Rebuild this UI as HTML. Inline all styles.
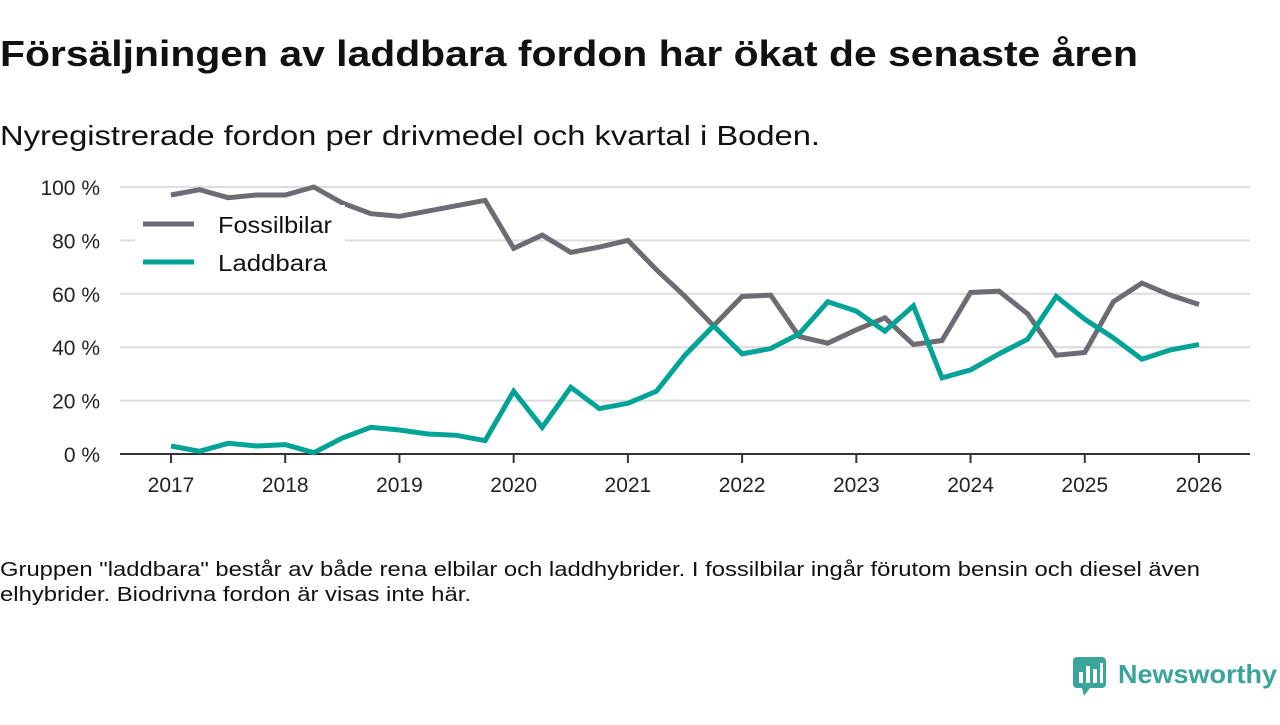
<!DOCTYPE html>
<html><head><meta charset="utf-8"><style>
body{margin:0;width:1280px;height:720px;background:#fff;font-family:"Liberation Sans",sans-serif;overflow:hidden}
</style></head><body>
<svg width="1280" height="720" xmlns="http://www.w3.org/2000/svg">
<text x="0" y="66" font-size="36" font-weight="bold" fill="#111" textLength="1138" lengthAdjust="spacingAndGlyphs">Försäljningen av laddbara fordon har ökat de senaste åren</text>
<text x="0" y="145" font-size="28" fill="#111" textLength="820" lengthAdjust="spacingAndGlyphs">Nyregistrerade fordon per drivmedel och kvartal i Boden.</text>
<g id="grid"></g><g id="lines"></g>
<g>
<rect x="135" y="205" width="210" height="85" fill="#fff"/>
<line x1="143" y1="224" x2="194" y2="224" stroke="#6e6c72" stroke-width="5"/>
<text x="218" y="233" font-size="23" fill="#111" textLength="114" lengthAdjust="spacingAndGlyphs">Fossilbilar</text>
<line x1="143" y1="262" x2="194" y2="262" stroke="#00a396" stroke-width="5"/>
<text x="218" y="271" font-size="23" fill="#111" textLength="109" lengthAdjust="spacingAndGlyphs">Laddbara</text>
</g>
<text x="0" y="576" font-size="20" fill="#111" textLength="1200" lengthAdjust="spacingAndGlyphs">Gruppen "laddbara" består av både rena elbilar och laddhybrider. I fossilbilar ingår förutom bensin och diesel även</text>
<text x="0" y="601" font-size="20" fill="#111" textLength="471" lengthAdjust="spacingAndGlyphs">elhybrider. Biodrivna fordon är visas inte här.</text>
<g>
<rect x="1073" y="657" width="33" height="31" rx="4" fill="#3aa39a"/>
<polygon points="1082,688 1090,688 1084,696" fill="#3aa39a"/>
<rect x="1079" y="672" width="4" height="11" fill="#fff"/><rect x="1086" y="666" width="4" height="17" fill="#fff"/><rect x="1093" y="669" width="4" height="14" fill="#fff"/><rect x="1100" y="663" width="3" height="20" fill="#fff"/>
<text x="1118" y="683" font-size="26" font-weight="bold" fill="#3aa39a" textLength="159" lengthAdjust="spacingAndGlyphs">Newsworthy</text>
</g>
</svg>
<script>
const years=["2017","2018","2019","2020","2021","2022","2023","2024","2025","2026"];
const yTicks=[0,20,40,60,80,100];
const fossil=[97,99,96,97,97,100,94,90,89,91,93,95,77,82,75.5,77.5,80,69,59,48,59,59.5,44,41.5,46.5,51,41,42.5,60.5,61,52.5,37,38,57,64,59.5,56];
const laddbara=[3,1,4,3,3.5,0.5,6,10,9,7.5,7,5,23.5,10,25,17,19,23.5,37,48,37.5,39.5,45,57,53.5,46,55.5,28.5,31.5,37.5,43,59,50.5,43.5,35.5,39,41];
const NS="http://www.w3.org/2000/svg";
const x=i=>171+i*(1199-171)/36;
const y=v=>454-v*2.67;
const grid=document.getElementById('grid'),lines=document.getElementById('lines');
function mk(t,a,p){const e=document.createElementNS(NS,t);for(const k in a)e.setAttribute(k,a[k]);p.appendChild(e);return e;}
yTicks.forEach(v=>{
 if(v>0){const g=mk('line',{x1:120,x2:1250,y1:y(v),y2:y(v),stroke:'#dcdcdc','stroke-width':2},grid);
 
 }
 const t=mk('text',{x:100,y:y(v)+8,'font-size':21,fill:'#222','text-anchor':'end'},grid);t.textContent=v+' %';
 
 
});
const ax=mk('line',{x1:120,x2:1250,y1:454,y2:454,stroke:'#333','stroke-width':2},grid);


years.forEach((yr,k)=>{const xx=x(k*4);
 mk('line',{x1:xx,x2:xx,y1:454,y2:463,stroke:'#333','stroke-width':2},grid);
 const t=mk('text',{x:xx,y:492,'font-size':21,fill:'#222','text-anchor':'middle'},grid);t.textContent=yr;
 
 
});
function line(d,c,n){const p=mk('polyline',{points:d.map((v,i)=>x(i)+','+y(v)).join(' '),fill:'none',stroke:c,'stroke-width':5,'stroke-linejoin':'miter'},lines);
 
 }
line(fossil,'#6e6c72','line-fossilbilar');
line(laddbara,'#00a396','line-laddbara');
</script>
</body></html>
